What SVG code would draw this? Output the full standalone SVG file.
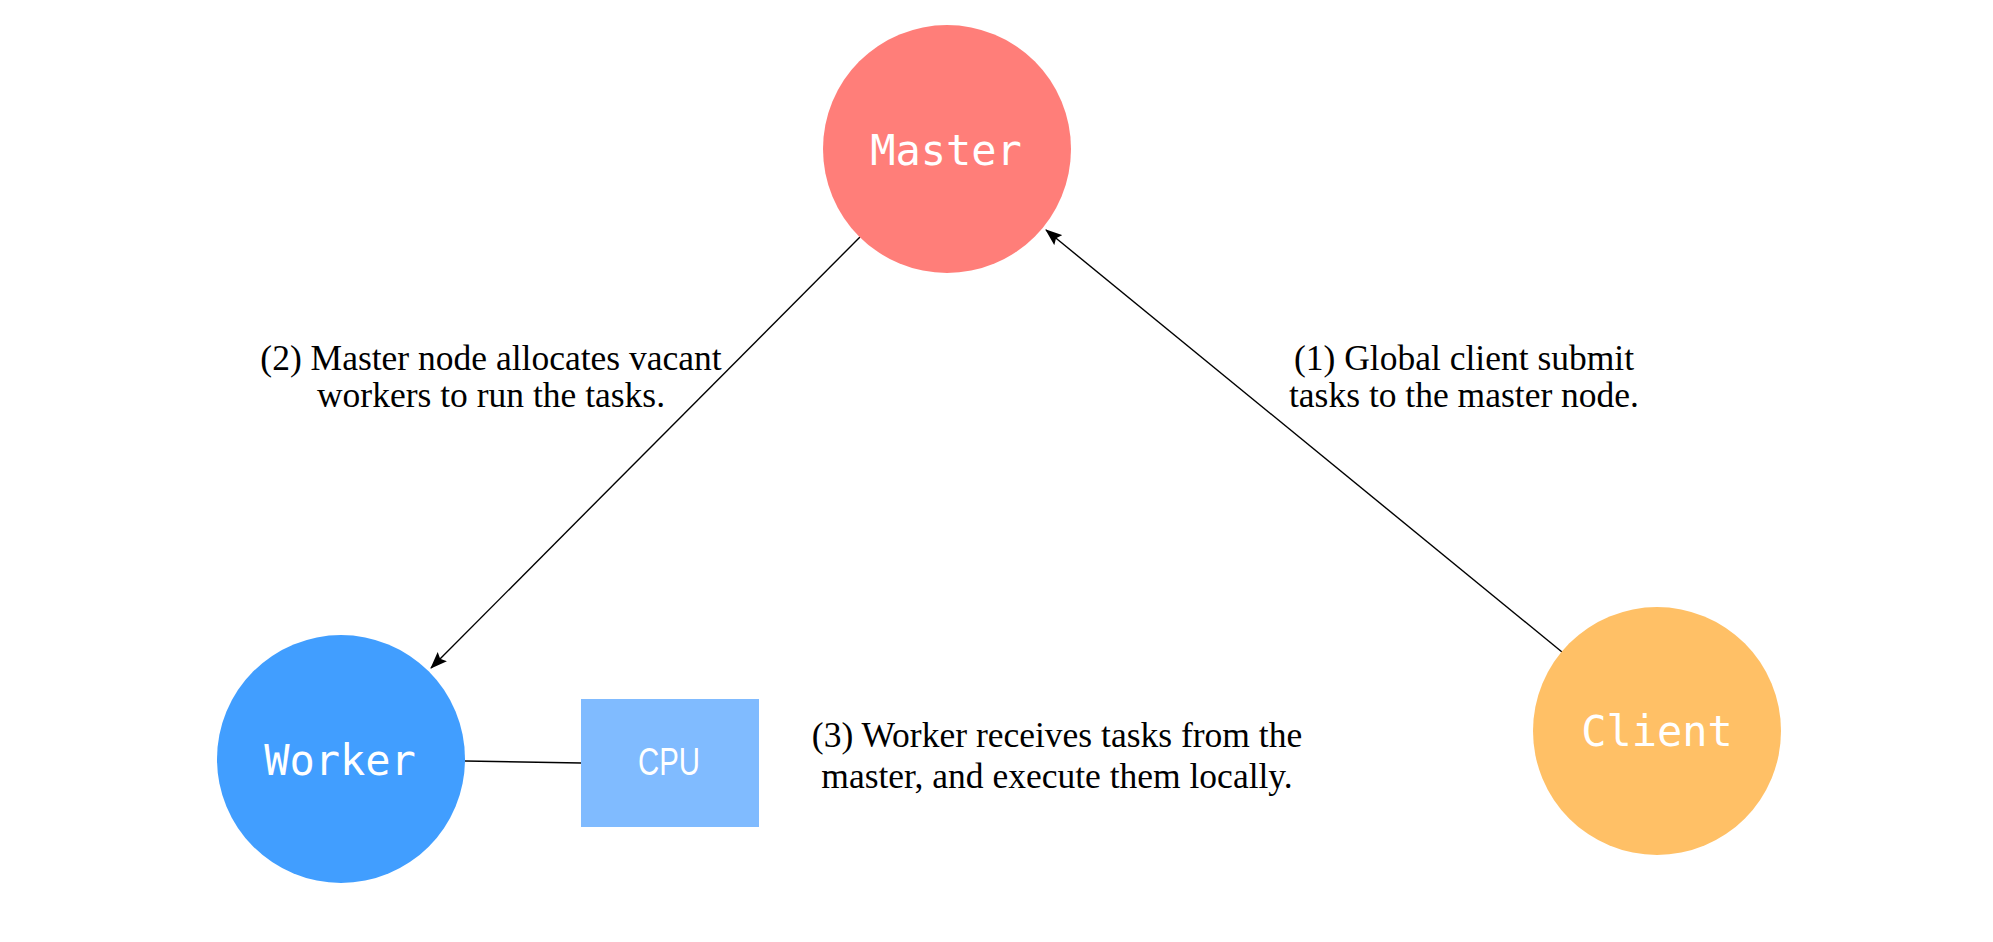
<svg xmlns="http://www.w3.org/2000/svg" width="1993" height="942" viewBox="0 0 1993 942">
<style>
.node-label{font-family:"DejaVu Sans Mono","Liberation Mono",monospace;font-size:42px;fill:#ffffff;text-anchor:middle}
.cpu-label{font-family:"Liberation Sans","DejaVu Sans",sans-serif;font-size:38px;fill:#ffffff;text-anchor:middle}
.note{font-family:"Liberation Serif","Times New Roman",serif;font-size:35.5px;fill:#000000;text-anchor:middle}
.edge{stroke:#000000;stroke-width:1.4;fill:none}
</style>
<defs>
<marker id="arrow" markerUnits="userSpaceOnUse" markerWidth="17" markerHeight="13" viewBox="0 0 17 13" refX="16" refY="6.5" orient="auto">
<path d="M0,0 L17,6.5 L0,13 L3,6.5 z" fill="#000000"/>
</marker>
</defs>
<rect width="1993" height="942" fill="#ffffff"/>
<g id="connectors">
<line class="edge" x1="860" y1="237" x2="431" y2="668" marker-end="url(#arrow)"/>
<line class="edge" x1="1562" y1="652" x2="1046" y2="230" marker-end="url(#arrow)"/>
<line class="edge" x1="465" y1="761" x2="581" y2="763"/>
</g>
<g id="master">
<circle cx="947" cy="149" r="124" fill="#FF7E79"/>
<text class="node-label" x="946" y="165">Master</text>
</g>
<g id="worker">
<circle cx="341" cy="759" r="124" fill="#419EFF"/>
<text class="node-label" x="340" y="775">Worker</text>
</g>
<g id="cpu">
<rect x="581" y="699" width="178" height="128" fill="#80BBFF"/>
<text class="cpu-label" x="669" y="775" textLength="62" lengthAdjust="spacingAndGlyphs">CPU</text>
</g>
<g id="client">
<circle cx="1657" cy="731" r="124" fill="#FFC066"/>
<text class="node-label" x="1657" y="746">Client</text>
</g>
<g id="labels">
<text class="note" x="491" y="370">(2) Master node allocates vacant</text>
<text class="note" x="491" y="407">workers to run the tasks.</text>
<text class="note" x="1464" y="370">(1) Global client submit</text>
<text class="note" x="1464" y="407">tasks to the master node.</text>
<text class="note" x="1057" y="747">(3) Worker receives tasks from the</text>
<text class="note" x="1057" y="788">master, and execute them locally.</text>
</g>
</svg>
